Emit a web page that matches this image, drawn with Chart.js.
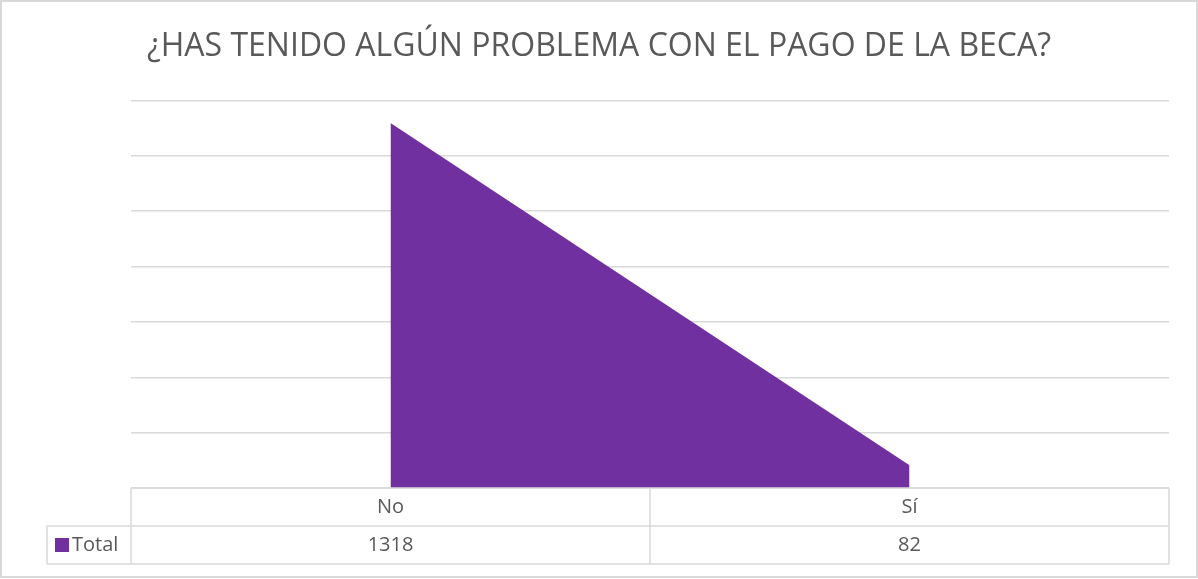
<!DOCTYPE html>
<html>
<head>
<meta charset="utf-8">
<script src="https://cdn.jsdelivr.net/npm/chart.js@4/dist/chart.umd.min.js"></script>
<style>
    html, body { margin:0; padding:0; background:#fff; }
    #wrap { width:1198px; height:579px; position:relative; }
</style>
</head>
<body>
<div id="wrap"><canvas id="becaChart"></canvas></div>
<script>

// data
const categories = ["No", "Sí"];
const totals = [1318, 82];
const seriesName = "Total";
const chartTitle = "¿HAS TENIDO ALGÚN PROBLEMA CON EL PAGO DE LA BECA?";

const purple = "#7030A0";
const gridGrey = "#D9D9D9";
const textGrey = "#595959";

// data table under the plot, like Excel's
const dataTable = {

    id:"dataTable",

    afterDraw(chart){

        const ctx = chart.ctx;
        const area = chart.chartArea;
        const xs = chart.scales.x;

        const rowH = 38;
        const top = area.bottom;
        const mid = top + rowH;
        const bottom = mid + rowH;
        const legendLeft = 47;

        ctx.save();

        // outer chart border
        ctx.strokeStyle = gridGrey;
        ctx.lineWidth = 2;
        ctx.strokeRect(1, 1, chart.width - 2, chart.height - 3);

        ctx.lineWidth = 1.5;
        ctx.beginPath();

        ctx.moveTo(area.left, top);
        ctx.lineTo(area.right, top);
        ctx.moveTo(legendLeft, mid);
        ctx.lineTo(area.right, mid);
        ctx.moveTo(legendLeft, bottom);
        ctx.lineTo(area.right, bottom);

        ctx.moveTo(legendLeft, mid);
        ctx.lineTo(legendLeft, bottom);
        ctx.moveTo(area.left, top);
        ctx.lineTo(area.left, bottom);

        const step = (area.right - area.left) / categories.length;
        for(let i = 1; i <= categories.length; i++){
            const x = area.left + step * i;
            ctx.moveTo(x, top);
            ctx.lineTo(x, bottom);
        }
        ctx.stroke();

        ctx.fillStyle = textGrey;
        ctx.font = "20px 'Open Sans'";
        ctx.textAlign = "center";
        ctx.textBaseline = "middle";

        categories.forEach((c, i) => {
            const x = xs.getPixelForValue(i);
            ctx.fillText(c, x, top + rowH / 2);
            ctx.fillText(String(totals[i]), x, mid + rowH / 2);
        });

        // legend key
        ctx.fillStyle = purple;
        ctx.fillRect(55, mid + 12, 14, 14);
        ctx.fillStyle = textGrey;
        ctx.textAlign = "left";
        ctx.fillText(seriesName, 72, mid + rowH / 2);

        ctx.restore();
    }
};

new Chart(

    document.getElementById("becaChart"),

    {
        type:"line",

        data:{
            labels:categories,
            datasets:[{
                label:seriesName,
                data:totals,
                fill:"origin",
                backgroundColor:purple,
                borderWidth:0,
                pointRadius:0,
                tension:0
            }]
        },

        options:{
            responsive:true,
            maintainAspectRatio:false,
            animation:false,
            layout:{
                padding:{ left:0, right:0, top:0, bottom:91 }
            },
            plugins:{
                legend:{ display:false },
                tooltip:{ enabled:false },
                title:{
                    display:true,
                    text:chartTitle,
                    color:textGrey,
                    font:{ family:"'Open Sans'", size:32, weight:"normal", lineHeight:1.2 },
                    padding:{ top:28, bottom:34 }
                }
            },
            scales:{
                x:{
                    display:false,
                    offset:true
                },
                y:{
                    min:0,
                    max:1400,
                    ticks:{ display:false, stepSize:200 },
                    grid:{ color:gridGrey, lineWidth:1.5, drawTicks:false },
                    border:{ display:false },
                    afterFit(scale){ scale.width = 131; }
                },
                // empty right axis, only keeps the right margin
                yRight:{
                    position:"right",
                    min:0,
                    max:1400,
                    ticks:{ display:false },
                    grid:{ display:false, drawTicks:false },
                    border:{ display:false },
                    afterFit(scale){ scale.width = 29; }
                }
            }
        },

        plugins:[dataTable]
    }
);
</script>
</body>
</html>
